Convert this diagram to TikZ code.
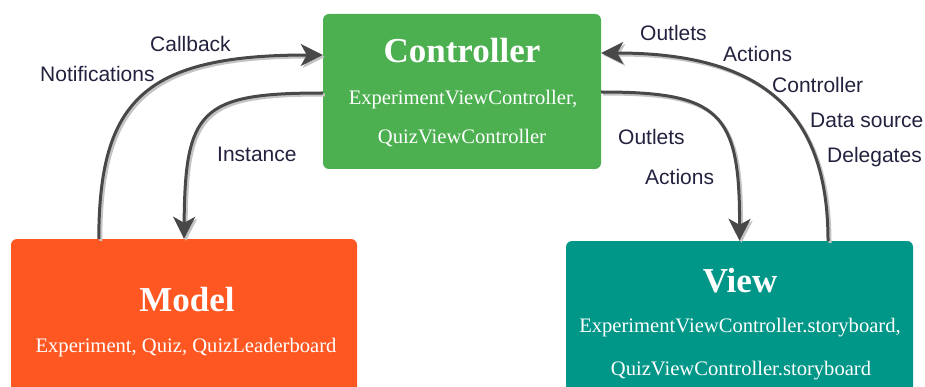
\documentclass[tikz,border=0pt]{standalone}
\usepackage{fontspec}
\setmainfont{Liberation Serif}
\newfontfamily\labelfont{Liberation Sans}
\usetikzlibrary{arrows.meta}
\definecolor{ctrlgreen}{HTML}{4CAF50}
\definecolor{modelorange}{HTML}{FF5722}
\definecolor{viewteal}{HTML}{009688}
\definecolor{arrowgray}{HTML}{484848}
\definecolor{shadowgray}{HTML}{C4C4C4}
\definecolor{labelink}{HTML}{22223F}
\begin{document}
\begin{tikzpicture}[x=1pt,y=-1pt,
  box/.style={rectangle, rounded corners=6pt, draw=none, inner sep=0},
  title/.style={font=\fontsize{35}{41}\selectfont\bfseries, text=white, anchor=base, inner sep=0},
  sub/.style={font=\fontsize{20.6}{24}\selectfont, text=white, anchor=base, inner sep=0},
  lbl/.style={font=\labelfont\fontsize{21}{25}\selectfont, text=labelink, anchor=base west, inner sep=0},
  tip/.style={-{Stealth[length=22pt,width=22pt,inset=6pt]}},
  flow/.style={draw=arrowgray, line width=3pt, tip},
  flowshadow/.style={draw=shadowgray, line width=3pt, tip,
    transform canvas={xshift=2pt,yshift=-2pt}}
]
\useasboundingbox (0,0) rectangle (925,387);
\clip (0,0) rectangle (925,387);

% the three blocks
\node[box, fill=ctrlgreen, minimum width=278pt, minimum height=155pt] (ctrl) at (462,91.5) {};
\node[box, fill=modelorange, minimum width=346pt, minimum height=200pt] (model) at (184,339) {};
\node[box, fill=viewteal, minimum width=347pt, minimum height=200pt] (view) at (739.5,341) {};

% block texts
\node[title] (ctrltitle) at (462,63) {Controller};
\node[sub] (ctrlsub1) at (463,105) {ExperimentViewController,};
\node[sub] (ctrlsub2) at (462,144) {QuizViewController};
\node[title] (modeltitle) at (187,311) {Model};
\node[sub] (modelsub) at (186,352) {Experiment, Quiz, QuizLeaderboard};
\node[title] (viewtitle) at (740,292) {View};
\node[sub] (viewsub1) at (740,332) {ExperimentViewController.storyboard,};
\node[sub] (viewsub2) at (741,375) {QuizViewController.storyboard};

% connectors: light offset copy first, then the dark stroke
\draw[flowshadow] ([xshift=88pt]model.north west) .. controls (99,100) and (145,55) .. ([yshift=36.5pt]ctrl.west);
\draw[flowshadow] ([yshift=-1.5pt]ctrl.west) .. controls (200,93) and (185,110) .. (model.north);
\draw[flowshadow] ([yshift=-0.5pt]ctrl.east) .. controls (720,92) and (740,112) .. (view.north);
\draw[flowshadow] ([xshift=88.5pt]view.north) .. controls (828,109) and (760,53) .. ([yshift=38.5pt]ctrl.east);

\draw[flow] ([xshift=88pt]model.north west) .. controls (99,100) and (145,55) .. ([yshift=36.5pt]ctrl.west);
\draw[flow] ([yshift=-1.5pt]ctrl.west) .. controls (200,93) and (185,110) .. (model.north);
\draw[flow] ([yshift=-0.5pt]ctrl.east) .. controls (720,92) and (740,112) .. (view.north);
\draw[flow] ([xshift=88.5pt]view.north) .. controls (828,109) and (760,53) .. ([yshift=38.5pt]ctrl.east);

% connector labels
\node[lbl] (lcallback) at (150,52) {Callback};
\node[lbl] (lnotif) at (40,82) {Notifications};
\node[lbl] (linstance) at (217,162) {Instance};
\node[lbl] (loutlets1) at (640,41) {Outlets};
\node[lbl] (lactions1) at (723,62) {Actions};
\node[lbl] (lcontroller) at (772,93) {Controller};
\node[lbl] (ldatasource) at (810,128) {Data source};
\node[lbl] (ldelegates) at (827,163) {Delegates};
\node[lbl] (loutlets2) at (618,145) {Outlets};
\node[lbl] (lactions2) at (645,185) {Actions};
\end{tikzpicture}
\end{document}
